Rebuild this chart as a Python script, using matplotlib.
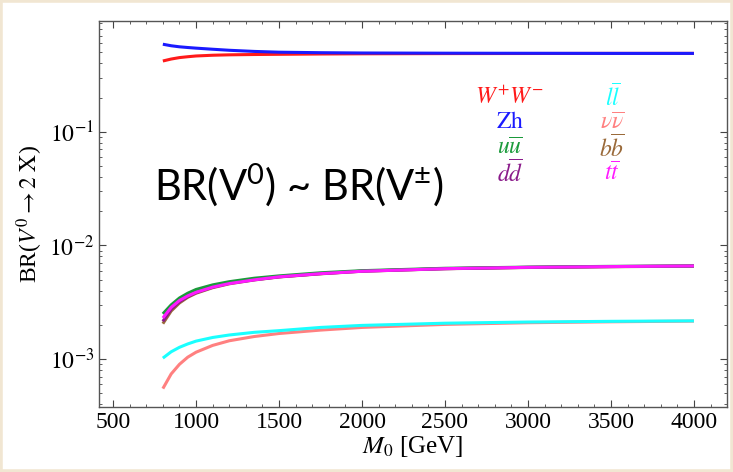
import matplotlib
matplotlib.use("Agg")
import matplotlib.pyplot as plt
from matplotlib.patches import Rectangle
from matplotlib.ticker import MultipleLocator, LogLocator, NullFormatter

plt.rcParams['font.family'] = ['Liberation Serif', 'DejaVu Serif']
plt.rcParams['mathtext.fontset'] = 'stix'
plt.rcParams['mathtext.rm'] = 'Lato'

# masses in GeV
M0 = [800, 850, 900, 950, 1000, 1100, 1200, 1350, 1500, 1750, 2000, 2500, 3000, 3500, 4000]

# branching ratios
br_WW = [0.42, 0.437, 0.45, 0.458, 0.465, 0.472, 0.476, 0.479, 0.481, 0.484, 0.486,
         0.488, 0.489, 0.49, 0.49]
br_Zh = [0.59, 0.572, 0.56, 0.552, 0.545, 0.533, 0.522, 0.51, 0.502, 0.497, 0.494,
         0.492, 0.491, 0.49, 0.49]
br_uu = [2.5e-3, 3.0e-3, 3.45e-3, 3.8e-3, 4.1e-3, 4.5e-3, 4.8e-3, 5.15e-3, 5.4e-3,
         5.75e-3, 6.0e-3, 6.3e-3, 6.45e-3, 6.55e-3, 6.6e-3]
br_dd = [2.15e-3, 2.75e-3, 3.2e-3, 3.55e-3, 3.85e-3, 4.3e-3, 4.65e-3, 5.0e-3, 5.3e-3,
         5.65e-3, 5.95e-3, 6.25e-3, 6.42e-3, 6.52e-3, 6.6e-3]
br_bb = [2.05e-3, 2.65e-3, 3.12e-3, 3.5e-3, 3.8e-3, 4.25e-3, 4.6e-3, 4.97e-3, 5.28e-3,
         5.63e-3, 5.93e-3, 6.24e-3, 6.4e-3, 6.5e-3, 6.58e-3]
br_tt = [2.3e-3, 2.85e-3, 3.28e-3, 3.6e-3, 3.87e-3, 4.3e-3, 4.62e-3, 4.98e-3, 5.3e-3,
         5.65e-3, 5.93e-3, 6.25e-3, 6.42e-3, 6.52e-3, 6.6e-3]
br_ll = [1.02e-3, 1.16e-3, 1.27e-3, 1.36e-3, 1.44e-3, 1.55e-3, 1.63e-3, 1.72e-3, 1.78e-3,
         1.9e-3, 1.98e-3, 2.07e-3, 2.12e-3, 2.15e-3, 2.17e-3]
br_nn = [5.5e-4, 7.4e-4, 9.0e-4, 1.04e-3, 1.15e-3, 1.32e-3, 1.45e-3, 1.58e-3, 1.68e-3,
         1.8e-3, 1.9e-3, 2.02e-3, 2.09e-3, 2.13e-3, 2.16e-3]

series = [
    (br_WW, '#ff1a1a'),
    (br_Zh, '#1a1aff'),
    (br_nn, '#ff8080'),
    (br_ll, '#1affff'),
    (br_bb, '#9a6a3a'),
    (br_dd, '#8a1a8a'),
    (br_uu, '#1a9a3a'),
    (br_tt, '#ff1aff'),
]

labels_left = [(r'$W^{+}W^{-}$', '#ff1a1a'), (r'$\mathrm{Zh}$', '#1a1aff'),
               (r'$u\overline{u}$', '#1a9a3a'), (r'$d\overline{d}$', '#8a1a8a')]
labels_right = [(r'$l\overline{l}$', '#1affff'), (r'$\nu\overline{\nu}$', '#ff8080'),
                (r'$b\overline{b}$', '#9a6a3a'), (r'$t\overline{t}$', '#ff1aff')]

fig = plt.figure(figsize=(7.33, 4.72), dpi=100)
fig.patches.append(Rectangle((0, 0), 1, 1, transform=fig.transFigure, fill=False,
                             edgecolor='#f1e6d2', linewidth=4))
ax = fig.add_axes([0.135, 0.138, 0.857, 0.817])

for vals, c in series:
    ax.plot(M0, vals, color=c, lw=2.2, solid_capstyle='butt')

ax.set_yscale('log')
ax.set_xlim(415, 4200)
ax.set_ylim(3.8e-4, 0.94)

ax.xaxis.set_major_locator(MultipleLocator(500))
ax.xaxis.set_minor_locator(MultipleLocator(100))
ax.yaxis.set_minor_locator(LogLocator(base=10, subs=range(2, 10), numticks=20))
ax.yaxis.set_minor_formatter(NullFormatter())
ax.set_yticks([1e-3, 1e-2, 1e-1])
ax.set_yticklabels([r'$10^{-3}$', r'$10^{-2}$', r'$10^{-1}$'])

ax.tick_params(which='both', direction='in', top=True, right=True, colors='#444444',
               labelcolor='black', labelsize=17)
ax.tick_params(which='major', length=5, width=0.8)
ax.tick_params(which='minor', length=2.5, width=0.6)
for s in ax.spines.values():
    s.set_color('#555555')
    s.set_linewidth(1.0)

ax.set_xlabel(r'$M_0$ [GeV]', fontsize=18, labelpad=1)
ax.set_ylabel(r'BR($V^0\rightarrow 2\ \mathrm{X}$)', fontsize=17, labelpad=3)

for i, (t, c) in enumerate(labels_left):
    ax.text(0.654, 0.803 - i * 0.066, t, color=c, fontsize=17, ha='center', va='center',
            transform=ax.transAxes)
for i, (t, c) in enumerate(labels_right):
    ax.text(0.817, 0.803 - i * 0.066, t, color=c, fontsize=17, ha='center', va='center',
            transform=ax.transAxes)

ax.text(0.318, 0.575, r'BR(V$^0$) ~ BR(V$^{\pm}$)', fontsize=30, family='Lato',
        math_fontfamily='custom', ha='center', va='center', transform=ax.transAxes)

fig.savefig('out.png', dpi=100)
